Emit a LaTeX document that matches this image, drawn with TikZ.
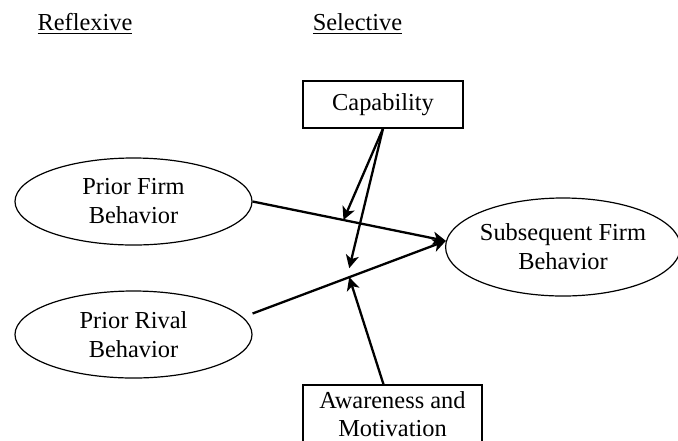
\documentclass[tikz,border=0pt]{standalone}
\usepackage{fontspec}
\setmainfont{Liberation Serif}
\usetikzlibrary{shapes.geometric,arrows.meta,positioning}

\begin{document}
\begin{tikzpicture}[x=0.5pt, y=-0.5pt,
    every node/.style={font=\fontsize{12.2}{14.5}\selectfont},
    construct/.style={ellipse, draw=black, line width=0.6pt, align=center, minimum width=118.5pt, minimum height=43.5pt, inner sep=0pt},
    factor/.style={rectangle, draw=black, line width=0.6pt, align=center, inner sep=0pt},
    link/.style={-{Stealth[length=6.5pt,width=6.5pt,inset=1.8pt]}, line width=1.15pt}
]
    \useasboundingbox (0,0) rectangle (678,440);

    % Headings
    \node[anchor=base] (refl) at (85,30) {\underline{Reflexive}};
    \node[anchor=base] (sel) at (357.5,30) {\underline{Selective}};

    % Constructs
    \node[construct] (pfb) at (133.5,201.5) {Prior Firm\\Behavior};
    \node[construct] (prb) at (133.5,334.5) {Prior Rival\\Behavior};
    \node[construct, minimum width=110pt, minimum height=49pt] (sfb) at (563,247) {Subsequent Firm\\Behavior};

    % Moderators
    \node[factor, minimum width=80pt, minimum height=23.5pt] (cap) at (383,104.5) {Capability};
    \node[factor, minimum width=89.5pt, minimum height=29pt, font=\fontsize{12.2}{14}\selectfont] (aware) at (392.5,414) {Awareness and\\Motivation};

    % Main effects
    \draw[link] (pfb.east) -- coordinate[pos=0.47] (m1) (sfb.177);
    \draw[link] ([yshift=10.5pt]prb.east) -- coordinate[pos=0.5] (m2) (sfb.177);

    % Moderation
    \draw[link] (cap.south) -- (m1);
    \draw[link] (cap.south) -- ([yshift=4.5pt]m2);
    \draw[link] ([xshift=-4.5pt]aware.north) -- (m2);
\end{tikzpicture}
\end{document}
